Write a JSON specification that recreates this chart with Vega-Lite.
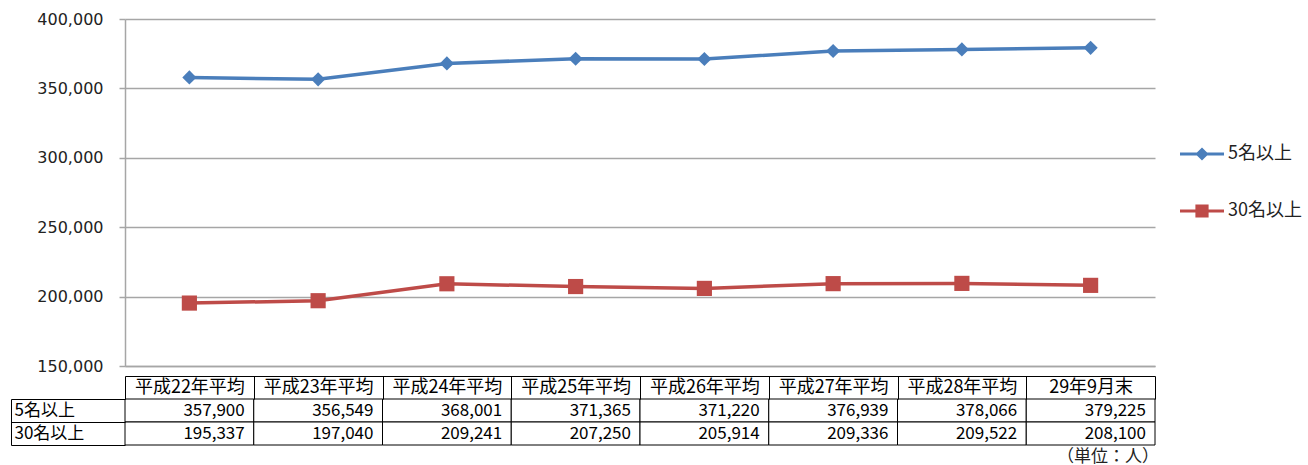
{
  "$schema": "https://vega.github.io/schema/vega-lite/v6.json",
  "padding": {"left": 10, "top": 11, "right": 0, "bottom": 0},
  "background": "white",
  "config": {"font": "Noto Sans CJK JP", "view": {"stroke": null}, "concat": {"spacing": 1}},
  "title": {"text": "（単位：人）", "orient": "bottom", "anchor": "end", "frame": "group", "fontSize": 17, "fontWeight": "normal", "color": "#222", "offset": 3, "dx": 4},
  "datasets": {
    "d": [
      {"period": "平成22年平均", "series": "5名以上", "value": 357900},
      {"period": "平成23年平均", "series": "5名以上", "value": 356549},
      {"period": "平成24年平均", "series": "5名以上", "value": 368001},
      {"period": "平成25年平均", "series": "5名以上", "value": 371365},
      {"period": "平成26年平均", "series": "5名以上", "value": 371220},
      {"period": "平成27年平均", "series": "5名以上", "value": 376939},
      {"period": "平成28年平均", "series": "5名以上", "value": 378066},
      {"period": "29年9月末", "series": "5名以上", "value": 379225},
      {"period": "平成22年平均", "series": "30名以上", "value": 195337},
      {"period": "平成23年平均", "series": "30名以上", "value": 197040},
      {"period": "平成24年平均", "series": "30名以上", "value": 209241},
      {"period": "平成25年平均", "series": "30名以上", "value": 207250},
      {"period": "平成26年平均", "series": "30名以上", "value": 205914},
      {"period": "平成27年平均", "series": "30名以上", "value": 209336},
      {"period": "平成28年平均", "series": "30名以上", "value": 209522},
      {"period": "29年9月末", "series": "30名以上", "value": 208100}
    ]
  },
  "vconcat": [
    {
      "width": 1030,
      "height": 347,
      "data": {"name": "d"},
      "encoding": {
        "x": {"field": "period", "type": "nominal", "sort": null,
          "scale": {"domain": ["平成22年平均","平成23年平均","平成24年平均","平成25年平均","平成26年平均","平成27年平均","平成28年平均","29年9月末"], "paddingInner": 0, "paddingOuter": 0},
          "axis": {"labels": false, "ticks": false, "title": null, "domainColor": "#a6a6a6", "domainWidth": 1.5}},
        "y": {"field": "value", "type": "quantitative",
          "scale": {"domain": [150000, 400000], "nice": false, "zero": false},
          "axis": {"values": [150000, 200000, 250000, 300000, 350000, 400000], "format": ",d", "title": null,
            "labelFont": "DejaVu Sans", "labelFontSize": 16, "labelColor": "#222",
            "tickColor": "#a6a6a6", "tickSize": 6, "tickWidth": 1.5, "labelPadding": 16,
            "gridColor": "#a6a6a6", "gridWidth": 1.5, "domainColor": "#a6a6a6", "domainWidth": 1.5}},
        "color": {"field": "series", "type": "nominal",
          "scale": {"domain": ["5名以上", "30名以上"], "range": ["#4A7EBB", "#BE4B48"]},
          "legend": {"title": null, "orient": "none", "legendX": 1055, "legendY": 113, "padding": 0,
            "labelFontSize": 18, "labelColor": "#222", "labelOffset": 4, "rowPadding": 26,
            "symbolSize": 1936, "symbolStrokeWidth": 0,
            "encode": {"symbols": {"update": {
              "shape": {"signal": "datum.value == '5名以上' ? 'M-1,-0.07H1V0.07H-1Z M0,-0.3L0.3,0L0,0.3L-0.3,0Z' : 'M-1,-0.07H1V0.07H-1Z M-0.3,-0.3H0.3V0.3H-0.3Z'"},
              "size": {"value": 1936},
              "fill": {"signal": "datum.value == '5名以上' ? '#4A7EBB' : '#BE4B48'"},
              "opacity": {"value": 1}
            }}}}}
      },
      "layer": [
        {"mark": {"type": "line", "strokeWidth": 3.5}},
        {"transform": [{"filter": "datum.series == '5名以上'"}],
          "mark": {"type": "point", "filled": true, "opacity": 1, "shape": "diamond", "size": 200}},
        {"transform": [{"filter": "datum.series == '30名以上'"}],
          "mark": {"type": "point", "filled": true, "opacity": 1, "shape": "square", "size": 230}}
      ]
    },
    {
      "width": 1030,
      "height": 46,
      "data": {"name": "d"},
      "encoding": {
        "x": {"field": "period", "type": "nominal", "sort": null,
          "scale": {"domain": ["平成22年平均","平成23年平均","平成24年平均","平成25年平均","平成26年平均","平成27年平均","平成28年平均","29年9月末"], "paddingInner": 0, "paddingOuter": 0},
          "axis": {"orient": "top", "offset": 23, "title": null, "domainColor": "black", "tickColor": "black",
            "tickBand": "extent", "tickSize": -23, "labelPadding": 11.5, "labelBaseline": "middle", "labelAngle": 0,
            "labelFontSize": 18, "labelColor": "black"}},
        "y": {"field": "series", "type": "nominal", "sort": null,
          "scale": {"domain": ["5名以上", "30名以上"], "paddingInner": 0, "paddingOuter": 0},
          "axis": {"offset": 114, "title": null, "domainColor": "black", "tickColor": "black",
            "tickBand": "extent", "tickSize": -114, "labelAlign": "left", "labelPadding": 111,
            "labelFontSize": 17, "labelColor": "black"}}
      },
      "layer": [
        {"mark": {"type": "rect", "fill": "white", "stroke": "black", "strokeWidth": 1}},
        {"mark": {"type": "text", "align": "right", "dx": -9, "fontSize": 17, "color": "black"},
          "encoding": {
            "x": {"field": "period", "type": "nominal", "sort": null, "bandPosition": 1},
            "text": {"field": "value", "type": "quantitative", "format": ","}
          }}
      ]
    }
  ]
}
